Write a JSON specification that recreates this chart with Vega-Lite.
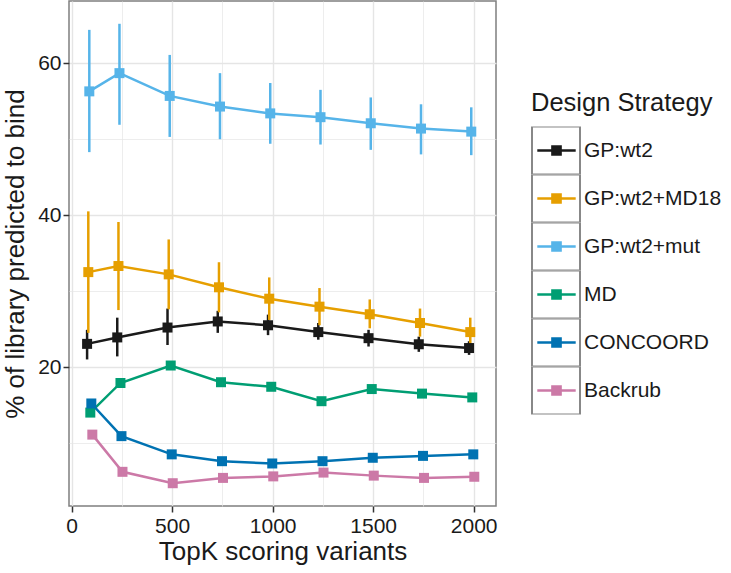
{
  "$schema": "https://vega.github.io/schema/vega-lite/v6.json",
  "width": 427,
  "height": 505,
  "autosize": {"type": "none"},
  "padding": {"left": 69, "top": 1, "right": 235, "bottom": 67},
  "background": "white",
  "config": {
    "font": "Liberation Sans",
    "view": {"stroke": "#7f7f7f", "strokeWidth": 1.5},
    "axis": {
      "domain": false,
      "gridColor": "#e5e5e5",
      "tickWidth": 1.5,
      "labelFontSize": 21,
      "labelColor": "#1a1a1a",
      "titleFontSize": 26,
      "titleFontWeight": "normal",
      "titleColor": "#1a1a1a",
      "labelFont": "Liberation Sans",
      "titleFont": "Liberation Sans"
    }
  },
  "data": {
    "values": [
      {"series": "GP:wt2", "x": 77, "y": 23.05, "lo": 21.0, "hi": 24.9},
      {"series": "GP:wt2", "x": 227, "y": 23.9, "lo": 21.4, "hi": 26.5},
      {"series": "GP:wt2", "x": 477, "y": 25.2, "lo": 22.9, "hi": 27.7},
      {"series": "GP:wt2", "x": 727, "y": 26.0, "lo": 24.5, "hi": 27.4},
      {"series": "GP:wt2", "x": 977, "y": 25.5, "lo": 24.2, "hi": 26.9},
      {"series": "GP:wt2", "x": 1227, "y": 24.6, "lo": 23.6, "hi": 25.8},
      {"series": "GP:wt2", "x": 1477, "y": 23.8, "lo": 22.7, "hi": 24.9},
      {"series": "GP:wt2", "x": 1727, "y": 23.0, "lo": 22.0, "hi": 24.0},
      {"series": "GP:wt2", "x": 1977, "y": 22.5, "lo": 21.6, "hi": 23.4},
      {"series": "GP:wt2+MD18", "x": 83, "y": 32.5, "lo": 24.5, "hi": 40.5},
      {"series": "GP:wt2+MD18", "x": 233, "y": 33.3, "lo": 27.5, "hi": 39.1},
      {"series": "GP:wt2+MD18", "x": 483, "y": 32.2, "lo": 27.6, "hi": 36.8},
      {"series": "GP:wt2+MD18", "x": 733, "y": 30.5, "lo": 27.2, "hi": 33.8},
      {"series": "GP:wt2+MD18", "x": 983, "y": 29.0, "lo": 26.2, "hi": 31.8},
      {"series": "GP:wt2+MD18", "x": 1233, "y": 27.95, "lo": 25.5, "hi": 30.4},
      {"series": "GP:wt2+MD18", "x": 1483, "y": 26.95, "lo": 25.1, "hi": 28.9},
      {"series": "GP:wt2+MD18", "x": 1733, "y": 25.8, "lo": 24.0, "hi": 27.7},
      {"series": "GP:wt2+MD18", "x": 1983, "y": 24.6, "lo": 22.9, "hi": 26.5},
      {"series": "GP:wt2+mut", "x": 88, "y": 56.3, "lo": 48.3, "hi": 64.4},
      {"series": "GP:wt2+mut", "x": 238, "y": 58.7, "lo": 51.9, "hi": 65.2},
      {"series": "GP:wt2+mut", "x": 488, "y": 55.7, "lo": 50.3, "hi": 61.1},
      {"series": "GP:wt2+mut", "x": 738, "y": 54.3, "lo": 50.0, "hi": 58.7},
      {"series": "GP:wt2+mut", "x": 988, "y": 53.4, "lo": 49.4, "hi": 57.4},
      {"series": "GP:wt2+mut", "x": 1238, "y": 52.9, "lo": 49.3, "hi": 56.5},
      {"series": "GP:wt2+mut", "x": 1488, "y": 52.1, "lo": 48.6, "hi": 55.5},
      {"series": "GP:wt2+mut", "x": 1738, "y": 51.4, "lo": 48.0, "hi": 54.6},
      {"series": "GP:wt2+mut", "x": 1988, "y": 51.0, "lo": 47.9, "hi": 54.2},
      {"series": "MD", "x": 93, "y": 14.0},
      {"series": "MD", "x": 243, "y": 17.9},
      {"series": "MD", "x": 493, "y": 20.2},
      {"series": "MD", "x": 743, "y": 18.0},
      {"series": "MD", "x": 993, "y": 17.4},
      {"series": "MD", "x": 1243, "y": 15.5},
      {"series": "MD", "x": 1493, "y": 17.1},
      {"series": "MD", "x": 1743, "y": 16.5},
      {"series": "MD", "x": 1993, "y": 16.0},
      {"series": "CONCOORD", "x": 98, "y": 15.2},
      {"series": "CONCOORD", "x": 248, "y": 10.9},
      {"series": "CONCOORD", "x": 498, "y": 8.5},
      {"series": "CONCOORD", "x": 748, "y": 7.6},
      {"series": "CONCOORD", "x": 998, "y": 7.3},
      {"series": "CONCOORD", "x": 1248, "y": 7.6},
      {"series": "CONCOORD", "x": 1498, "y": 8.05},
      {"series": "CONCOORD", "x": 1748, "y": 8.3},
      {"series": "CONCOORD", "x": 1998, "y": 8.5},
      {"series": "Backrub", "x": 103, "y": 11.1},
      {"series": "Backrub", "x": 253, "y": 6.2},
      {"series": "Backrub", "x": 503, "y": 4.7},
      {"series": "Backrub", "x": 753, "y": 5.4},
      {"series": "Backrub", "x": 1003, "y": 5.6},
      {"series": "Backrub", "x": 1253, "y": 6.1},
      {"series": "Backrub", "x": 1503, "y": 5.7},
      {"series": "Backrub", "x": 1753, "y": 5.4},
      {"series": "Backrub", "x": 2003, "y": 5.55}
    ]
  },
  "encoding": {
    "x": {
      "field": "x",
      "type": "quantitative",
      "title": "TopK scoring variants",
      "scale": {"domain": [-13, 2111], "nice": false, "zero": false},
      "axis": {
        "values": [0, 250, 500, 750, 1000, 1250, 1500, 1750, 2000],
        "format": "d",
        "labelExpr": "datum.value % 500 === 0 ? datum.label : ''",
        "tickColor": {"condition": {"test": "datum.value % 500 === 0", "value": "#333333"}, "value": "transparent"},
        "gridWidth": {"condition": {"test": "datum.value % 500 === 0", "value": 1.4}, "value": 0.7},
        "tickSize": 6,
        "labelPadding": 3,
        "titlePadding": 2
      }
    },
    "y": {
      "field": "y",
      "type": "quantitative",
      "title": "% of library predicted to bind",
      "scale": {"domain": [1.7, 68.2], "nice": false, "zero": false},
      "axis": {
        "values": [10, 20, 30, 40, 50, 60],
        "labelExpr": "datum.value % 20 === 0 ? datum.label : ''",
        "tickColor": {"condition": {"test": "datum.value % 20 === 0", "value": "#333333"}, "value": "transparent"},
        "gridWidth": {"condition": {"test": "datum.value % 20 === 0", "value": 1.4}, "value": 0.7},
        "tickSize": 6,
        "labelPadding": 2,
        "titlePadding": 9
      }
    },
    "color": {
      "field": "series",
      "type": "nominal",
      "title": "Design Strategy",
      "scale": {
        "domain": ["GP:wt2", "GP:wt2+MD18", "GP:wt2+mut", "MD", "CONCOORD", "Backrub"],
        "range": ["#1a1a1a", "#E69F00", "#56B4E9", "#009E73", "#0072B2", "#CC79A7"]
      },
      "legend": {
        "orient": "none",
        "legendX": 462,
        "legendY": 89.5,
        "padding": 0,
        "titleFontSize": 25.5,
        "titleFontWeight": "normal",
        "titleColor": "#1a1a1a",
        "titleLimit": 400,
        "titlePadding": 10.5,
        "labelFontSize": 21,
        "labelColor": "#1a1a1a",
        "labelOffset": 2,
        "labelLimit": 300,
        "rowPadding": 0,
        "clipHeight": 48,
        "symbolType": "M-1,-1M1,1M-0.8,0H0.8M-0.17,-0.17H0.17V0.17H-0.17Z",
        "symbolSize": 2304,
        "symbolStrokeWidth": 2,
        "symbolOffset": 0,
        "encode": {
          "symbols": {
            "update": {
              "stroke": {"scale": "color", "field": "value"},
              "fill": {"scale": "color", "field": "value"},
              "strokeWidth": {"value": 2.5},
              "opacity": {"value": 1}
            }
          }
        }
      }
    }
  },
  "layer": [
    {
      "transform": [{"filter": "datum.lo != null"}],
      "mark": {"type": "rule", "strokeWidth": 2.5},
      "encoding": {
        "y": {"field": "lo", "type": "quantitative"},
        "y2": {"field": "hi"}
      }
    },
    {
      "mark": {"type": "line", "strokeWidth": 2.5},
      "encoding": {"order": {"field": "x", "type": "quantitative"}}
    },
    {
      "mark": {"type": "point", "shape": "square", "filled": true, "size": 100, "opacity": 1},
      "encoding": {}
    },
    {
      "mark": {"type": "point", "size": 0, "opacity": 0},
      "encoding": {
        "shape": {
          "field": "series",
          "type": "nominal",
          "scale": {
            "domain": ["Backrub", "CONCOORD", "MD", "GP:wt2+mut", "GP:wt2+MD18", "GP:wt2"],
            "range": ["M-1,-1H1V1H-1Z"]
          },
          "legend": {
            "orient": "none",
            "legendX": 462,
            "legendY": 89.5,
            "padding": 0,
            "title": " ",
            "titleFontSize": 25.5,
            "titleFontWeight": "normal",
            "titleColor": "transparent",
            "titleLimit": 400,
            "titlePadding": 10.5,
            "labelFontSize": 21,
            "labelExpr": "''",
            "labelOffset": 2,
            "rowPadding": 0,
            "clipHeight": 48,
            "symbolSize": 2304,
            "symbolStrokeWidth": 2,
            "symbolOffset": 0,
            "encode": {
              "symbols": {
                "update": {
                  "stroke": {"value": "#cccccc"},
                  "fill": {"value": "transparent"},
                  "strokeWidth": {"value": 2.5},
                  "opacity": {"value": 1}
                }
              }
            }
          }
        }
      }
    }
  ]
}
